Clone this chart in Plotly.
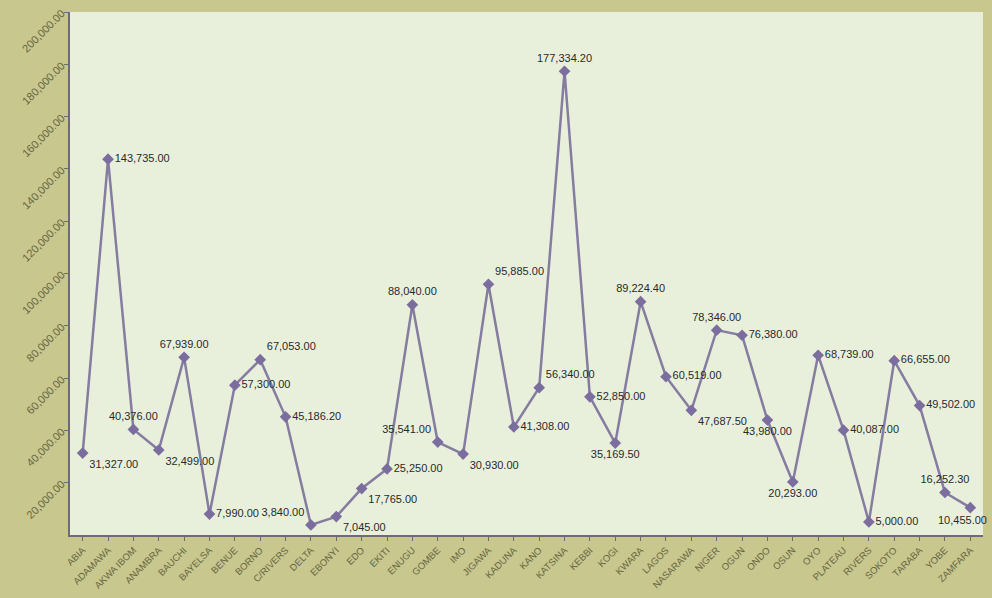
import plotly.graph_objects as go

states = ["ABIA", "ADAMAWA", "AKWA IBOM", "ANAMBRA", "BAUCHI", "BAYELSA", "BENUE", "BORNO",
          "C/RIVERS", "DELTA", "EBONYI", "EDO", "EKITI", "ENUGU", "GOMBE", "IMO", "JIGAWA",
          "KADUNA", "KANO", "KATSINA", "KEBBI", "KOGI", "KWARA", "LAGOS", "NASARAWA", "NIGER",
          "OGUN", "ONDO", "OSUN", "OYO", "PLATEAU", "RIVERS", "SOKOTO", "TARABA", "YOBE", "ZAMFARA"]
values = [31327.00, 143735.00, 40376.00, 32499.00, 67939.00, 7990.00, 57300.00, 67053.00,
          45186.20, 3840.00, 7045.00, 17765.00, 25250.00, 88040.00, 35541.00, 30930.00, 95885.00,
          41308.00, 56340.00, 177334.20, 52850.00, 35169.50, 89224.40, 60519.00, 47687.50, 78346.00,
          76380.00, 43980.00, 20293.00, 68739.00, 40087.00, 5000.00, 66655.00, 49502.00, 16252.30, 10455.00]
label_pos = ["bottom right", "middle right", "top center", "bottom right", "top center", "middle right",
             "middle right", "top right", "middle right", "top left", "bottom right", "bottom right",
             "middle right", "top center", "top left", "bottom right", "top right", "middle right",
             "top right", "top center", "middle right", "bottom center", "top center", "middle right",
             "bottom right", "top center", "middle right", "bottom center", "bottom center", "middle right",
             "middle right", "middle right", "middle right", "middle right", "top center", "bottom center"]
y_ticks = list(range(20000, 200001, 20000))
y_tick_text = [f"{v:,.2f}" for v in y_ticks]

labels = [f"{v:,.2f}" for v in values]
trace_labels = labels[:-1] + [""]

fig = go.Figure(go.Scatter(
    x=states, y=values, mode="lines+markers+text",
    line=dict(color="#857ca0", width=2.5),
    marker=dict(symbol="diamond", size=9, color="#7b6d9e"),
    text=trace_labels, textposition=label_pos,
    textfont=dict(family="Liberation Sans, Arial, sans-serif", size=11, color="#2a2a2a"),
    cliponaxis=False, hoverinfo="x+y",
))

# last label sits just left of the right edge, below its point
fig.add_annotation(x=states[-1], y=values[-1], text=labels[-1], showarrow=False,
                   xanchor="right", yanchor="top", xshift=19, yshift=-4,
                   font=dict(family="Liberation Sans, Arial, sans-serif", size=11, color="#2a2a2a"))

fig.update_layout(
    width=992, height=598,
    margin=dict(l=70, r=9, t=7, b=63),
    paper_bgcolor="#c8c78e",
    plot_bgcolor="#e8f0dc",
    showlegend=False,
    xaxis=dict(type="category", tickangle=-45, showgrid=False, showline=True, linecolor="#6f6a78",
               linewidth=2, ticks="outside", ticklen=4, tickcolor="#6f6a78", range=[-0.5, 35.5],
               tickfont=dict(family="Liberation Sans, Arial, sans-serif", size=9.5, color="#66653f")),
    yaxis=dict(range=[0, 200000], tickvals=y_ticks, ticktext=y_tick_text, tickangle=-45,
               showgrid=False, showline=True, linecolor="#6f6a78", linewidth=2, ticks="outside",
               ticklen=4, tickcolor="#6f6a78", zeroline=False,
               tickfont=dict(family="Liberation Sans, Arial, sans-serif", size=11, color="#66653f")),
)

fig.write_html("out.html")
